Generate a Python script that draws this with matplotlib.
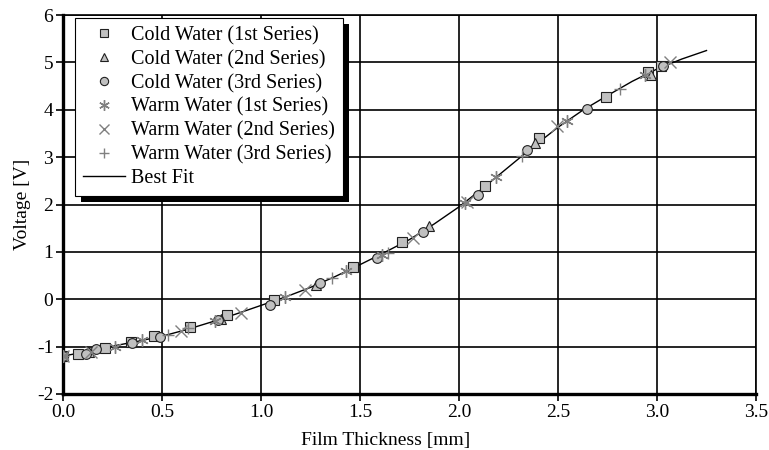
import matplotlib
matplotlib.use("Agg")
import matplotlib.pyplot as plt
import matplotlib.patheffects as pe

plt.rcParams['font.family'] = ['Liberation Serif', 'DejaVu Serif']
plt.rcParams['axes.unicode_minus'] = False

# Cold water runs
cold1_x = [0.0, 0.077, 0.21, 0.343, 0.46, 0.64, 0.83, 1.066, 1.466, 1.71, 2.13, 2.406, 2.742, 2.956, 3.02]
cold1_y = [-1.2, -1.16, -1.03, -0.9, -0.78, -0.58, -0.34, -0.01, 0.68, 1.21, 2.39, 3.41, 4.26, 4.79, 4.93]

cold2_x = [0.0, 0.13, 0.8, 1.28, 1.85, 2.384, 2.968]
cold2_y = [-1.2, -1.12, -0.42, 0.31, 1.54, 3.30, 4.74]

cold3_x = [0.0, 0.115, 0.165, 0.35, 0.488, 0.785, 1.045, 1.298, 1.584, 1.817, 2.098, 2.345, 2.645, 3.03]
cold3_y = [-1.2, -1.15, -1.06, -0.92, -0.79, -0.43, -0.13, 0.34, 0.87, 1.42, 2.19, 3.15, 4.01, 4.92]

# Warm water runs
warm1_x = [0.0, 0.263, 0.40, 0.768, 1.12, 1.43, 1.61, 2.03, 2.187, 2.547, 2.94]
warm1_y = [-1.2, -1.0, -0.87, -0.45, 0.04, 0.59, 0.93, 2.04, 2.59, 3.77, 4.74]

warm2_x = [0.0, 0.14, 0.596, 0.897, 1.222, 1.766, 2.04, 2.497, 3.066]
warm2_y = [-1.2, -1.12, -0.66, -0.28, 0.19, 1.29, 2.06, 3.65, 5.01]

warm3_x = [0.0, 0.53, 0.633, 1.357, 1.64, 2.317, 2.813]
warm3_y = [-1.2, -0.76, -0.61, 0.45, 0.97, 3.02, 4.44]

# Best fit curve
fit_x = [0.0, 0.125, 0.25, 0.375, 0.5, 0.625, 0.75, 0.875, 1.0, 1.125, 1.25, 1.375, 1.5,
         1.625, 1.75, 1.875, 2.0, 2.125, 2.25, 2.375, 2.5, 2.625, 2.75, 2.875, 3.0, 3.125, 3.25]
fit_y = [-1.2, -1.1, -0.99, -0.89, -0.78, -0.64, -0.48, -0.31, -0.13, 0.05, 0.25, 0.48, 0.73,
         0.99, 1.26, 1.59, 1.95, 2.36, 2.79, 3.22, 3.63, 3.99, 4.30, 4.60, 4.86, 5.07, 5.25]

x_ticks = [0.0, 0.5, 1.0, 1.5, 2.0, 2.5, 3.0, 3.5]
x_tick_labels = ['0.0', '0.5', '1.0', '1.5', '2.0', '2.5', '3.0', '3.5']
y_ticks = [-2, -1, 0, 1, 2, 3, 4, 5, 6]

fig = plt.figure(figsize=(7.69, 4.5), dpi=100)
ax = fig.add_axes([63 / 769, 56 / 450, 693 / 769, 379 / 450])

light = '#c0c0c0'
edge = '#202020'
gray = '#808080'

ax.plot(cold1_x, cold1_y, ls='none', marker='s', ms=7, mfc=light, mec=edge, mew=0.8,
        label='Cold Water (1st Series)', zorder=4)
ax.plot(cold2_x, cold2_y, ls='none', marker='^', ms=7.5, mfc=light, mec=edge, mew=0.8,
        label='Cold Water (2nd Series)', zorder=4)
ax.plot(cold3_x, cold3_y, ls='none', marker='o', ms=7, mfc=light, mec=edge, mew=0.8,
        label='Cold Water (3rd Series)', zorder=4)
ax.plot(warm1_x, warm1_y, ls='none', marker=(6, 2, 0), ms=9, mec=gray, mew=1.0,
        label='Warm Water (1st Series)', zorder=4)
ax.plot(warm2_x, warm2_y, ls='none', marker='x', ms=8, mec=gray, mew=1.0,
        label='Warm Water (2nd Series)', zorder=4)
ax.plot(warm3_x, warm3_y, ls='none', marker='+', ms=8, mec=gray, mew=1.0,
        label='Warm Water (3rd Series)', zorder=4)
ax.plot(fit_x, fit_y, color='black', lw=1.0, label='Best Fit', zorder=3)

ax.set_xlim(0, 3.5)
ax.set_ylim(-2, 6)
ax.set_xticks(x_ticks)
ax.set_xticklabels(x_tick_labels)
ax.set_yticks(y_ticks)
ax.grid(True, color='black', lw=1.2)
ax.set_axisbelow(True)

for side in ['left', 'bottom']:
    ax.spines[side].set_linewidth(2.4)
for side in ['top', 'right']:
    ax.spines[side].set_linewidth(1.2)

ax.tick_params(direction='out', length=5, width=1.2, labelsize=14, colors='black', pad=2)
ax.set_xlabel('Film Thickness [mm]', fontsize=14, labelpad=3)
ax.xaxis.set_label_coords((386 - 63) / 693, -0.1)
ax.set_ylabel('Voltage [V]', fontsize=14, labelpad=4)

leg = ax.legend(loc='upper left', bbox_to_anchor=(75 / 769, 1 - 18 / 450),
                bbox_transform=fig.transFigure, borderaxespad=0, fontsize=14.5,
                frameon=True, fancybox=False, edgecolor='black', framealpha=1,
                labelspacing=0.23, handlelength=2.1, handletextpad=0.3,
                borderpad=0.4, markerscale=0.85)
leg.get_frame().set_linewidth(0.8)
leg.get_frame().set_path_effects([
    pe.SimplePatchShadow(offset=(4, -4), shadow_rgbFace='black', alpha=1.0),
    pe.Normal()])
leg.set_zorder(10)

fig.savefig('out.png', dpi=100)
